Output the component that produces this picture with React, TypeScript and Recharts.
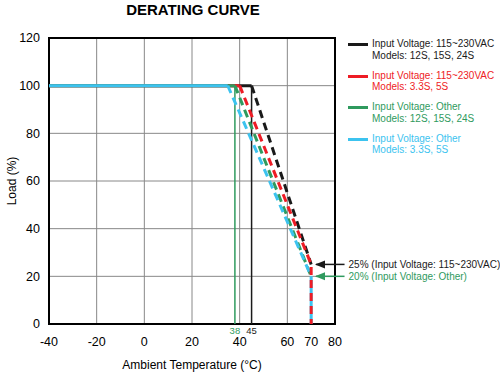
import React from 'react';
import {
  LineChart,
  Line,
  XAxis,
  YAxis,
  CartesianGrid,
  ReferenceLine,
  ReferenceArea,
  ReferenceDot,
} from 'recharts';

// Ambient temperature (°C) vs. load (%) points for each curve
const blackFlat = [{ t: -40, load: 100 }, { t: 45, load: 100 }];
const blackDerate = [{ t: 45, load: 100 }, { t: 70, load: 25 }];
const redFlat = [{ t: -40, load: 100 }, { t: 40, load: 100 }];
const redDerate = [{ t: 40, load: 100 }, { t: 70, load: 25 }, { t: 70, load: 0 }];
const greenFlat = [{ t: -40, load: 100 }, { t: 38, load: 100 }];
const greenDerate = [{ t: 38, load: 100 }, { t: 70, load: 20 }];
const blueFlat = [{ t: -40, load: 100 }, { t: 35, load: 100 }];
const blueDerate = [{ t: 35, load: 100 }, { t: 70, load: 20 }];
const blueDrop = [{ t: 70, load: 20 }, { t: 70, load: 0 }];

const xTicks = [-40, -20, 0, 20, 40, 60, 70, 80];
const xGrid = [-20, 0, 20, 40, 60];
const yTicks = [0, 20, 40, 60, 80, 100, 120];
const yGrid = [20, 40, 60, 80, 100];

const legendItems = [
  { line1: 'Input Voltage: 115~230VAC', line2: 'Models: 12S, 15S, 24S', color: '#1a1a1a' },
  { line1: 'Input Voltage: 115~230VAC', line2: 'Models: 3.3S, 5S', color: '#ee1c25' },
  { line1: 'Input Voltage: Other', line2: 'Models: 12S, 15S, 24S', color: '#2f9a5e' },
  { line1: 'Input Voltage: Other', line2: 'Models: 3.3S, 5S', color: '#3cc3ef' },
];

const FONT = '"Liberation Sans", Arial, sans-serif';
const BLACK = '#1a1a1a';
const RED = '#ee1c25';
const GREEN = '#2f9a5e';
const BLUE = '#3cc3ef';
const DASH = '8 5';

const LegendBox = () => (
  <div
    style={{
      position: 'absolute',
      left: 348,
      top: 38,
      fontFamily: FONT,
      fontSize: 10,
      lineHeight: '11.5px',
      whiteSpace: 'nowrap',
    }}
  >
    {legendItems.map((item, i) => (
      <div key={i} style={{ display: 'flex', alignItems: 'flex-start', marginBottom: 8.5 }}>
        <div style={{ width: 20, height: 3, background: item.color, marginTop: 5, marginRight: 4 }} />
        <div style={{ color: item.color }}>
          <div>{item.line1}</div>
          <div>{item.line2}</div>
        </div>
      </div>
    ))}
  </div>
);

// small temperature mark under the bottom end of a vertical reference line
const markLabel = (text: string, color: string) => (p: any) => {
  const vb = p.viewBox || {};
  return (
    <text
      x={(vb.x || 0) + (vb.width || 0) / 2}
      y={(vb.y || 0) + (vb.height || 0) + 3}
      dy="0.71em"
      textAnchor="middle"
      fontSize={9.5}
      fontFamily={FONT}
      fill={color}
    >
      {text}
    </text>
  );
};

const arrowHead = (color: string) => (p: any) => (
  <polygon
    points={`${p.cx},${p.cy} ${p.cx + 10},${p.cy - 4} ${p.cx + 10},${p.cy + 4}`}
    fill={color}
  />
);

const noteLabel = (text: string, color: string) => (p: any) => {
  const vb = p.viewBox || {};
  return (
    <text
      x={(vb.x || 0) + (vb.width || 0) + 4}
      y={vb.y || 0}
      dy="0.35em"
      fontSize={10}
      fontFamily={FONT}
      fill={color}
    >
      {text}
    </text>
  );
};

export default function App() {
  return (
    <div style={{ position: 'absolute', left: 0, top: 0, width: 500, height: 374, background: '#fff' }}>
      <div
        style={{
          position: 'absolute',
          left: 0,
          width: 386,
          top: 1,
          textAlign: 'center',
          fontFamily: FONT,
          fontWeight: 'bold',
          fontSize: 15,
          color: '#000',
        }}
      >
        DERATING CURVE
      </div>
      <LegendBox />
      <LineChart
        width={500}
        height={374}
        margin={{ top: 38, right: 165, bottom: 0, left: 0 }}
        style={{ fontFamily: FONT }}
      >
        <CartesianGrid
          stroke="#888"
          strokeWidth={1}
          verticalValues={xGrid}
          horizontalValues={yGrid}
        />
        <XAxis
          type="number"
          dataKey="t"
          domain={[-40, 80]}
          ticks={xTicks}
          height={50}
          axisLine={false}
          tickLine={false}
          tickSize={0}
          tickMargin={13}
          tick={{ fill: '#000', fontSize: 12.5 }}
          label={{ value: 'Ambient Temperature (°C)', position: 'insideBottom', offset: 5, fill: '#000', fontSize: 12 }}
        />
        <YAxis
          type="number"
          domain={[0, 120]}
          ticks={yTicks}
          width={49}
          axisLine={false}
          tickLine={false}
          tickSize={0}
          tickMargin={9}
          tick={{ fill: '#000', fontSize: 12.5 }}
          label={{
            value: 'Load (%)',
            angle: -90,
            position: 'insideLeft',
            offset: 12,
            fill: '#000',
            fontSize: 12,
            style: { textAnchor: 'middle' },
          }}
        />

        <ReferenceLine
          segment={[{ x: 38, y: 0 }, { x: 38, y: 100 }]}
          stroke={GREEN}
          strokeWidth={1.5}
          label={markLabel('38', GREEN)}
        />
        <ReferenceLine
          segment={[{ x: 45, y: 0 }, { x: 45, y: 100 }]}
          stroke={BLACK}
          strokeWidth={1.5}
          label={markLabel('45', BLACK)}
        />

        <Line data={blackFlat} dataKey="load" stroke={BLACK} strokeWidth={3} dot={false} isAnimationActive={false} />
        <Line data={redFlat} dataKey="load" stroke={RED} strokeWidth={3} dot={false} isAnimationActive={false} />
        <Line data={greenFlat} dataKey="load" stroke={GREEN} strokeWidth={3} dot={false} isAnimationActive={false} />
        <Line data={blueFlat} dataKey="load" stroke={BLUE} strokeWidth={3} dot={false} isAnimationActive={false} />

        <Line data={blackDerate} dataKey="load" stroke={BLACK} strokeWidth={3} strokeDasharray={DASH} dot={false} isAnimationActive={false} />
        <Line data={greenDerate} dataKey="load" stroke={GREEN} strokeWidth={3} strokeDasharray={DASH} dot={false} isAnimationActive={false} />
        <Line data={blueDerate} dataKey="load" stroke={BLUE} strokeWidth={3} strokeDasharray={DASH} dot={false} isAnimationActive={false} />
        <Line data={blueDrop} dataKey="load" stroke={BLUE} strokeWidth={3} dot={false} isAnimationActive={false} />
        <Line data={redDerate} dataKey="load" stroke={RED} strokeWidth={3} strokeDasharray={DASH} dot={false} isAnimationActive={false} />

        <ReferenceArea x1={-40} x2={80} y1={0} y2={120} fill="none" fillOpacity={0} stroke="#000" strokeWidth={2} />

        <ReferenceLine
          segment={[{ x: 72, y: 25 }, { x: 84, y: 25 }]}
          ifOverflow="visible"
          stroke={BLACK}
          strokeWidth={1.5}
          label={noteLabel('25% (Input Voltage: 115~230VAC)', BLACK)}
        />
        <ReferenceDot x={71.6} y={25} ifOverflow="visible" shape={arrowHead(BLACK)} />
        <ReferenceLine
          segment={[{ x: 72, y: 20 }, { x: 84, y: 20 }]}
          ifOverflow="visible"
          stroke={GREEN}
          strokeWidth={1.5}
          label={noteLabel('20% (Input Voltage: Other)', GREEN)}
        />
        <ReferenceDot x={71.6} y={20} ifOverflow="visible" shape={arrowHead(GREEN)} />
      </LineChart>
    </div>
  );
}
